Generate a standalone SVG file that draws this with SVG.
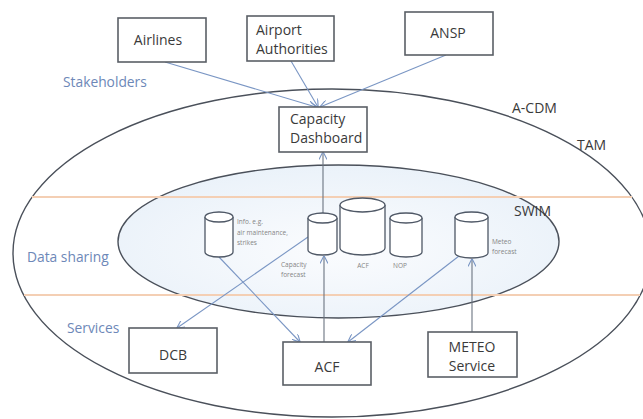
<svg xmlns="http://www.w3.org/2000/svg" width="643" height="419" viewBox="0 0 643 419">
<style>
text{font-family:"Open Sans","DejaVu Sans",sans-serif;fill:#3a3a3a}
.box{fill:#fff;stroke:#5a5f66;stroke-width:1.6}
.lbl{font-size:14px}
.lane{font-size:13.8px;fill:#6d88b8}
.tiny{font-size:6.5px;fill:#858585}
.cyl{fill:#fff;stroke:#4f5866;stroke-width:1.3}
.ell{fill:none;stroke:#4a505a;stroke-width:1.4}
.sep{stroke:#f4cfb4;stroke-width:2}
.arr{fill:none;stroke:#7a96c4;stroke-width:1.1}
.vln{fill:none;stroke:#6b7480;stroke-width:1.1}
</style>
<defs>
<marker id="ah" viewBox="0 0 10 10" refX="9.5" refY="5" markerWidth="8" markerHeight="8" markerUnits="userSpaceOnUse" orient="auto">
<path d="M0,0 L10,5 L0,10" fill="none" stroke="#7a96c4" stroke-width="1.4"/>
</marker>
<radialGradient id="swimg" cx="0.5" cy="0.55" r="0.6">
<stop offset="0" stop-color="#fbfcfe"/>
<stop offset="1" stop-color="#e9f1f9"/>
</radialGradient>
</defs>
<rect width="643" height="419" fill="#fff"/>
<g id="tam">
<ellipse class="ell" cx="332" cy="253" rx="319" ry="164"/>
</g>
<g id="swim">
<ellipse cx="338.5" cy="241.5" rx="220.5" ry="76.5" fill="url(#swimg)" stroke="#4a505a" stroke-width="1.4"/>
</g>
<g id="separators">
<line class="sep" x1="32" y1="197" x2="632" y2="197"/>
<line class="sep" x1="24" y1="295" x2="640" y2="295"/>
</g>
<g id="connectors">
<line class="arr" x1="165" y1="62" x2="316" y2="107" marker-end="url(#ah)"/>
<line class="arr" x1="291" y1="61" x2="318" y2="107" marker-end="url(#ah)"/>
<line class="arr" x1="446" y1="55" x2="320" y2="107" marker-end="url(#ah)"/>
<line class="vln" x1="323" y1="213" x2="323" y2="152" marker-end="url(#ah)"/>
<line class="vln" x1="324" y1="342" x2="324" y2="256" marker-end="url(#ah)"/>
<line class="arr" x1="219" y1="257" x2="300" y2="342" marker-end="url(#ah)"/>
<line class="arr" x1="308" y1="237" x2="177" y2="328" marker-end="url(#ah)"/>
<line class="arr" x1="459" y1="256" x2="348" y2="342" marker-end="url(#ah)"/>
<line class="vln" x1="472" y1="332" x2="472" y2="259" marker-end="url(#ah)"/>
</g>
<g id="airlines">
<rect class="box" x="118" y="18" width="88" height="44"/>
<text class="lbl" x="158" y="45" text-anchor="middle">Airlines</text>
</g>
<g id="airport-authorities">
<rect class="box" x="247" y="16" width="87" height="45"/>
<text class="lbl" x="256" y="35">Airport</text>
<text class="lbl" x="256" y="54">Authorities</text>
</g>
<g id="ansp">
<rect class="box" x="405" y="12" width="88" height="43"/>
<text class="lbl" x="448" y="38" text-anchor="middle">ANSP</text>
</g>
<g id="capacity-dashboard">
<rect class="box" x="279" y="107" width="88" height="45"/>
<text class="lbl" x="290" y="124">Capacity</text>
<text class="lbl" x="290" y="143">Dashboard</text>
</g>
<g id="dcb">
<rect class="box" x="129" y="328" width="88" height="45"/>
<text class="lbl" x="173" y="360" text-anchor="middle">DCB</text>
</g>
<g id="acf">
<rect class="box" x="283" y="342" width="88" height="43"/>
<text class="lbl" x="327" y="372" text-anchor="middle">ACF</text>
</g>
<g id="meteo-service">
<rect class="box" x="428" y="332" width="89" height="45"/>
<text class="lbl" x="472" y="352" text-anchor="middle">METEO</text>
<text class="lbl" x="472" y="371" text-anchor="middle">Service</text>
</g>
<g id="db-info">
<path class="cyl" d="M205,217 L205,252 A14,5 0 0 0 233,252 L233,217"/>
<ellipse class="cyl" cx="219" cy="217" rx="14" ry="5"/>
<text class="tiny" x="237" y="224">Info. e.g.</text>
<text class="tiny" x="237" y="235">air maintenance,</text>
<text class="tiny" x="237" y="245">strikes</text>
</g>
<g id="db-capacity-forecast">
<path class="cyl" d="M308,218 L308,250 A14.5,5 0 0 0 337,250 L337,218"/>
<ellipse class="cyl" cx="322.5" cy="218" rx="14.5" ry="5"/>
<text class="tiny" x="281" y="267">Capacity</text>
<text class="tiny" x="281" y="277">forecast</text>
</g>
<g id="db-acf">
<path class="cyl" d="M340,205 L340,248 A22.5,7 0 0 0 385,248 L385,205"/>
<ellipse class="cyl" cx="362.5" cy="205" rx="22.5" ry="7"/>
<text class="tiny" x="363" y="268" text-anchor="middle">ACF</text>
</g>
<g id="db-nop">
<path class="cyl" d="M390,218 L390,252 A16,5 0 0 0 422,252 L422,218"/>
<ellipse class="cyl" cx="406" cy="218" rx="16" ry="5"/>
<text class="tiny" x="400" y="268" text-anchor="middle">NOP</text>
</g>
<g id="db-meteo-forecast">
<path class="cyl" d="M455,217 L455,253 A16.5,5 0 0 0 488,253 L488,217"/>
<ellipse class="cyl" cx="471.5" cy="217" rx="16.5" ry="5"/>
<text class="tiny" x="492" y="244">Meteo</text>
<text class="tiny" x="492" y="254">forecast</text>
</g>
<g id="labels">
<text class="lane" x="63" y="87">Stakeholders</text>
<text class="lane" x="27" y="262">Data sharing</text>
<text class="lane" x="67" y="333">Services</text>
<text class="lbl" x="512" y="113">A-CDM</text>
<text class="lbl" x="577" y="150">TAM</text>
<text class="lbl" x="514" y="216">SWIM</text>
</g>
</svg>
